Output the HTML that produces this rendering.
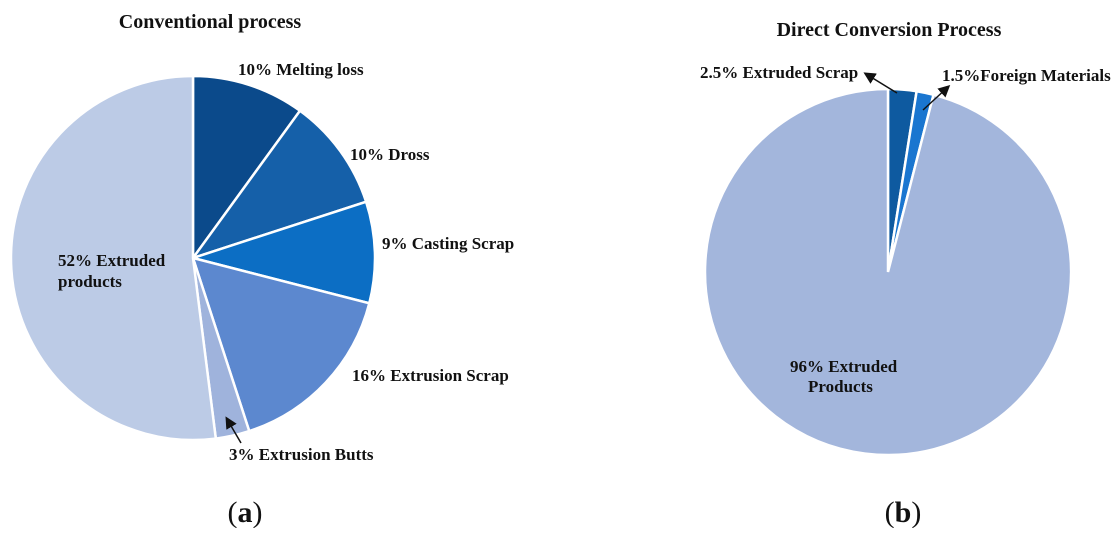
<!DOCTYPE html>
<html><head><meta charset="utf-8"><style>
body{margin:0;background:#fff;width:1119px;height:528px;overflow:hidden}
svg text{font-family:"Liberation Serif",serif;font-weight:bold;font-size:17px;fill:#111}
</style></head><body>
<svg width="1119" height="528">
<defs><marker id="ah" markerWidth="8" markerHeight="8" refX="6" refY="4" orient="auto"><path d="M0,0 L8,4 L0,8 z" fill="#111"/></marker></defs>
<g id="pa"></g>
<g id="pb"></g>
<text x="210" y="28" text-anchor="middle" style="font-size:20px">Conventional process</text>
<text x="889" y="36" text-anchor="middle" style="font-size:20px">Direct Conversion Process</text>
<text x="238" y="75">10% Melting loss</text>
<text x="350" y="160">10% Dross</text>
<text x="382" y="249">9% Casting Scrap</text>
<text x="352" y="381">16% Extrusion Scrap</text>
<text x="229" y="460">3% Extrusion Butts</text>
<text x="58" y="266">52% Extruded</text>
<text x="58" y="287">products</text>
<line x1="241" y1="443" x2="227" y2="419" stroke="#111" stroke-width="1.5" marker-end="url(#ah)"/>
<text x="700" y="78">2.5% Extruded Scrap</text>
<text x="942" y="81">1.5%Foreign Materials</text>
<line x1="897" y1="93" x2="866" y2="74" stroke="#111" stroke-width="1.5" marker-end="url(#ah)"/>
<line x1="923" y1="110" x2="948" y2="87" stroke="#111" stroke-width="1.5" marker-end="url(#ah)"/>
<text x="790" y="372">96% Extruded</text>
<text x="808" y="392">Products</text>
<text x="245" y="522" text-anchor="middle" style="font-size:30px;font-weight:normal;font-family:'Liberation Serif',serif">(<tspan style="font-weight:bold">a</tspan>)</text>
<text x="903" y="522" text-anchor="middle" style="font-size:30px;font-weight:normal;font-family:'Liberation Serif',serif">(<tspan style="font-weight:bold">b</tspan>)</text>
</svg>
<script>
const catsA=["Melting loss","Dross","Casting Scrap","Extrusion Scrap","Extrusion Butts","Extruded products"];
const valsA=[10,10,9,16,3,52];
const colsA=["#0b4a8b","#1560a9","#0c6ec4","#5c88cf","#9fb3dc","#bccbe6"];
const catsB=["Extruded Scrap","Foreign Materials","Extruded Products"];
const valsB=[2.5,1.5,96];
const colsB=["#0e5aa0","#1a76d0","#a3b6dc"];
function pie(gid,cats,vals,cols,cx,cy,r){
  const g=document.getElementById(gid);const tot=vals.reduce((a,b)=>a+b,0);let a0=0;
  vals.forEach((v,i)=>{
    const a1=a0+v/tot*2*Math.PI;
    const x0=cx+r*Math.sin(a0),y0=cy-r*Math.cos(a0),x1=cx+r*Math.sin(a1),y1=cy-r*Math.cos(a1);
    const p=document.createElementNS("http://www.w3.org/2000/svg","path");
    p.setAttribute("d",`M${cx},${cy}L${x0},${y0}A${r},${r} 0 ${a1-a0>Math.PI?1:0} 1 ${x1},${y1}Z`);
    p.setAttribute("fill",cols[i]);p.setAttribute("stroke","#fff");p.setAttribute("stroke-width","2.5");
    
    
    g.appendChild(p);a0=a1;
  });
}
pie("pa",catsA,valsA,colsA,193,258,182);
pie("pb",catsB,valsB,colsB,888,272,183);
</script>
</body></html>
